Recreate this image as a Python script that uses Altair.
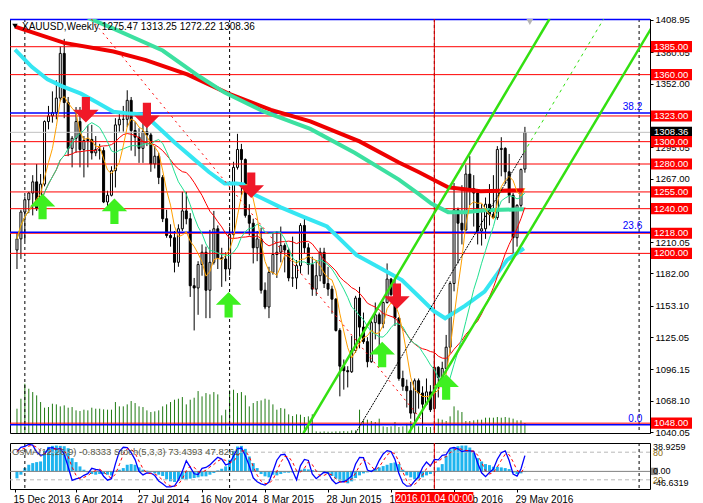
import altair as alt
import pandas as pd

# ---------------- data ----------------
weeks = list(range(130))  # 0 = week of 22 Dec 2013 ... 129 = week of 12 Jun 2016
opens = [1203,1213,1237,1248,1254,1264,1240,1262,1318,1323,
         1326,1339,1379,1335,1294,1303,1318,1293,1301,1302,
         1290,1293,1292,1246,1252,1274,1315,1320,1320,1337,
         1310,1304,1294,1309,1306,1280,1287,1268,1231,1216,
         1214,1192,1222,1238,1231,1171,1169,1190,1201,1167,
         1192,1222,1196,1195,1186,1217,1277,1293,1284,1234,
         1227,1205,1213,1167,1152,1183,1199,1201,1207,1203,
         1178,1178,1189,1225,1205,1190,1168,1180,1201,1173,
         1168,1159,1131,1099,1095,1094,1113,1160,1134,1121,
         1103,1138,1145,1137,1156,1177,1163,1142,1088,1081,
         1077,1057,1086,1075,1065,1076,1061,1098,1089,1097,
         1116,1173,1239,1227,1221,1271,1258,1254,1220,1222,
         1244,1235,1232,1293,1294,1273,1252,1214,1243,1275.47]
highs = [1219,1239,1251,1255,1270,1280,1271,1319,1332,1345,
         1355,1385,1392,1340,1305,1331,1331,1305,1315,1315,
         1305,1298,1295,1256,1278,1321,1326,1332,1346,1340,
         1318,1312,1322,1320,1308,1296,1290,1270,1239,1226,
         1220,1226,1255,1255,1236,1178,1193,1208,1206,1221,
         1238,1225,1205,1201,1224,1282,1307,1298,1285,1244,
         1231,1220,1223,1174,1188,1219,1220,1224,1209,1205,
         1215,1194,1227,1232,1209,1197,1194,1205,1205,1188,
         1171,1160,1133,1105,1099,1126,1162,1170,1147,1125,
         1140,1156,1147,1157,1191,1178,1180,1143,1095,1087,
         1085,1088,1088,1081,1088,1082,1111,1099,1103,1127,
         1175,1263,1241,1261,1279,1287,1270,1256,1244,1250,
         1262,1270,1296,1304,1295,1289,1254,1244,1276,1313.25]
lows = [1186,1195,1211,1236,1234,1238,1238,1260,1311,1317,
        1320,1336,1321,1287,1277,1290,1277,1268,1277,1284,
        1287,1284,1245,1240,1251,1259,1309,1309,1313,1292,
        1287,1281,1281,1296,1273,1276,1262,1228,1214,1206,
        1183,1188,1220,1226,1161,1131,1145,1180,1142,1142,
        1190,1186,1170,1175,1180,1213,1275,1252,1232,1216,
        1191,1193,1164,1150,1142,1181,1178,1192,1183,1175,
        1170,1168,1182,1200,1181,1162,1162,1175,1169,1162,
        1146,1130,1072,1078,1080,1093,1111,1115,1119,1098,
        1102,1123,1108,1133,1155,1162,1135,1086,1077,1062,
        1052,1046,1061,1046,1064,1058,1061,1071,1080,1096,
        1111,1166,1191,1208,1220,1243,1224,1208,1207,1213,
        1225,1231,1230,1269,1262,1245,1200,1206,1241,1272.22]
closes = [1213,1237,1248,1254,1264,1240,1262,1318,1323,1326,
          1339,1379,1335,1294,1303,1318,1293,1301,1302,1290,
          1293,1292,1246,1252,1274,1315,1320,1320,1337,1310,
          1304,1294,1309,1306,1280,1287,1268,1231,1216,1214,
          1192,1222,1238,1231,1171,1169,1190,1201,1167,1192,
          1222,1196,1195,1186,1217,1277,1293,1284,1234,1227,
          1205,1213,1167,1152,1183,1199,1201,1207,1203,1178,
          1178,1189,1225,1205,1190,1168,1180,1201,1173,1168,
          1159,1131,1099,1095,1094,1113,1160,1134,1121,1103,
          1138,1145,1137,1156,1177,1163,1142,1088,1081,1077,
          1057,1086,1075,1065,1076,1060,1098,1089,1097,1116,
          1173,1239,1227,1221,1271,1258,1254,1220,1222,1244,
          1235,1232,1293,1294,1273,1252,1214,1243,1275,1308.36]
volumes = [73,103,148,133,123,113,93,76,78,88,
           86,80,83,76,78,68,66,70,68,76,
           73,73,71,70,70,93,80,80,86,96,
           90,80,78,68,63,65,68,80,86,93,
           100,103,108,86,100,106,126,110,120,116,
           123,116,53,70,128,130,120,123,113,80,
           90,96,98,103,100,86,70,75,73,56,
           51,56,55,48,50,56,5,4,5,4,
           4,5,5,6,5,8,8,70,38,40,
           36,33,43,20,18,20,33,18,20,28,
           36,23,20,23,18,18,28,43,40,36,
           50,80,68,63,36,36,38,40,40,46,
           46,46,48,46,48,46,43,38,38,30]
osma = [-21,-10,10,20,25,28,30,62,74,77,
        78,77,76,70,40,28,15,5,-3,-8,
        -10,-8,-8,-10,-12,2,5,10,20,22,
        20,12,5,2,-2,-6,-10,-14,-24,-30,
        -32,-28,-24,-25,-22,-20,-18,-15,-15,-10,
        -5,3,8,15,35,62,75,77,68,45,
        25,10,-8,-15,-18,-10,-12,-8,-4,-4,
        -3,2,5,8,6,4,2,-2,-5,-8,
        -14,-22,-28,-32,-36,-30,-20,-12,-6,-3,
        3,8,12,16,20,25,27,22,5,-12,
        -18,-24,-22,-18,-12,-8,-3,12,22,47,
        67,72,76,78,78,72,57,40,30,22,
        19,14,14,12,10,7,-4,-8,-6,-2]

levels = [1385, 1360, 1323, 1300, 1280, 1255, 1240, 1218, 1200, 1048]
fib_levels = [1409.3, 1325.7, 1219.0, 1046.5]
fib_names = ["", "38.2", "23.6", "0.0"]
bid = 1308.36
axis_ticks = [1408.95, 1380.05, 1352.00, 1323.10, 1295.05, 1267.00, 1238.95,
              1210.05, 1182.00, 1153.10, 1125.05, 1096.15, 1068.10, 1040.05]
separators = [2, 54, 106, 158]
cross_i = 106
date_ticks = [-0.5, 15, 31, 47, 63, 79, 95, 111, 127]
date_labels = ["15 Dec 2013", "6 Apr 2014", "27 Jul 2014", "16 Nov 2014", "8 Mar 2015",
               "28 Jun 2015", "18 Oct 2015", "7 Feb 2016", "29 May 2016"]

red_thick_i = [-0.5, 12, 24.5, 32.75, 43.25, 53.75, 64.5, 74.5, 87, 97, 102, 109.5, 117.75, 128.75]
red_thick_p = [1403.0, 1388.4, 1380.7, 1373.0, 1360.2, 1343.0, 1328.5, 1318.2, 1300.2, 1281.4,
               1272.8, 1259.2, 1255.7, 1256.6]
teal_thick_i = [14.5, 18.75, 24.5, 37, 46.25, 52.75, 62.75, 74.5, 85.75, 97, 102, 105.25,
                109.5, 113.75, 118.75, 128.75]
teal_thick_p = [1418.0, 1409.8, 1401.2, 1381.6, 1358.5, 1343.9, 1326.8, 1311.4, 1290.0, 1266.0,
                1253.2, 1244.6, 1236.9, 1236.9, 1238.6, 1239.5]
cyan_thick_i = [-0.5, 3.75, 7.75, 11.25, 16.25, 20.25, 24.5, 28.75, 32.75, 34.5, 40.25, 44.5,
                48.75, 52.75, 55.75, 57.5, 59.5, 67, 72.75, 78.75, 82, 86.25, 92, 97.75, 102,
                105.75, 108.75, 113.75, 118.75, 124.5, 128.75]
cyan_thick_p = [1382.4, 1367.0, 1355.9, 1349.9, 1343.0, 1335.3, 1326.8, 1325.1, 1324.2, 1317.4,
                1298.5, 1285.7, 1272.8, 1262.6, 1262.6, 1261.7, 1254.0, 1241.2, 1232.6, 1224.1,
                1213.0, 1198.4, 1187.3, 1176.1, 1161.6, 1148.7, 1141.9, 1153.0, 1165.8, 1194.1,
                1204.4]

chan_name = ["L1", "L1", "L3", "L3"]
chan_i = [72.75, 135.25, 99.5, 162.5]
chan_p = [1039.1, 1409.8, 1039.1, 1409.8]
mid_black_i = [86, 128.75]
mid_black_p = [1039.1, 1290.3]
mid_green_i = [128.75, 149]
mid_green_p = [1290.3, 1409.8]
trend_red_i = [18.9, 102.5]
trend_red_p = [1409.8, 1052.0]

down_i = [17.5, 33, 59.5, 96.5]
down_p = [1328.5, 1323.4, 1260.9, 1161.6]
up_i = [6.5, 24.75, 53.75, 92.75, 109]
up_p = [1242.0, 1237.8, 1153.9, 1109.4, 1080.3]

title_text = "XAUUSD,Weekly  1275.47 1313.25 1272.22 1308.36"
ind_title = "OsMA(12,26,9) -0.8333  Stoch(5,3,3) 73.4393 47.8261"
ind_labels = ["38.9259", "80", "0.00", "20", "-46.6319"]
ind_label_v = [91, 79, 38.3, 19, 12]
ind_label_col = ["#000000", "#8a6a10", "#000000", "#8a6a10", "#000000"]
cross_text = "2016.01.04 00:00"

# ---------------- layout ----------------
W, HM, HI = 640, 414, 46
XDOM = [-0.5, 159.5]
PDOM = [1039.2, 1409.8]
FONT = "Liberation Sans"
ZERO = 38.3

df = pd.DataFrame({"i": weeks, "o": opens, "h": highs, "l": lows, "c": closes,
                   "vol": volumes, "osma": osma})

xs = alt.Scale(domain=XDOM, nice=False, zero=False)
ys = alt.Scale(domain=PDOM, nice=False, zero=False)
yax = alt.Axis(orient="right", values=axis_ticks, format=".2f", title=None, grid=False,
               labelFont=FONT, labelFontSize=9.5, labelColor="black", tickColor="black",
               tickSize=3, domainColor="black", labelPadding=2, labelFlush=False,
               labelOverlap=False)


def X(f="i"):
    return alt.X(f"{f}:Q", scale=xs, axis=None)


def Y(f):
    return alt.Y(f"{f}:Q", scale=ys, axis=yax)


sort_i = [alt.SortField("i")]
base = alt.Chart(df)

vol = base.transform_calculate(vtop=f"{PDOM[0]} + datum.vol * 0.298").mark_rule(
    color="#1f7a12", strokeWidth=1).encode(x=X(), y=Y("vtop"), y2=alt.datum(PDOM[0]))

sep_df = pd.DataFrame({"i": separators})
seps = alt.Chart(sep_df).mark_rule(color="black", strokeDash=[3, 3], strokeWidth=1).encode(x=X())

lv_df = pd.DataFrame({"p": levels})
lv_rules = alt.Chart(lv_df).mark_rule(color="#ff0000", strokeWidth=1).encode(y=Y("p"))
fib_df = pd.DataFrame({"p": fib_levels, "name": fib_names})
fib_rules = alt.Chart(fib_df).mark_rule(color="#0000ff", strokeWidth=1.5).encode(y=Y("p"))
fib_text = alt.Chart(fib_df).transform_calculate(ix="158.8").mark_text(
    align="right", baseline="bottom", dy=-1, color="#0000ff", font=FONT, fontSize=10).encode(
    x=X("ix"), y=Y("p"), text="name:N")
bid_df = pd.DataFrame({"p": [bid]})
bid_rule = alt.Chart(bid_df).mark_rule(color="#c0c0c0", strokeWidth=1).encode(y=Y("p"))

wicks = base.mark_rule(color="black", strokeWidth=1).encode(x=X(), y=Y("l"), y2="h:Q")
bodies = base.mark_bar(size=2, stroke="black", strokeWidth=1).encode(
    x=X(), y=Y("o"), y2="c:Q",
    fill=alt.condition("datum.c >= datum.o", alt.value("white"), alt.value("black")))

cross_df = pd.DataFrame({"i": [cross_i]})
cross = alt.Chart(cross_df).mark_rule(color="#e00000", strokeWidth=1).encode(x=X())

def thick(iv, pv, color):
    d = pd.DataFrame({"i": iv, "p": pv})
    return alt.Chart(d).mark_line(color=color, strokeWidth=4, clip=True).encode(x=X(), y=Y("p"))

red_thick = thick(red_thick_i, red_thick_p, "#ee0000")
teal_thick = thick(teal_thick_i, teal_thick_p, "#3ce0a0")
cyan_thick = thick(cyan_thick_i, cyan_thick_p, "#35e6f2")

ma = base.transform_window(ma5="mean(c)", frame=[-4, 0], sort=sort_i).transform_window(
    ma13="mean(c)", frame=[-12, 0], sort=sort_i).transform_window(
    ma21="mean(c)", frame=[-20, 0], sort=sort_i)
ma21 = ma.mark_line(color="#ff0000", strokeWidth=1).encode(x=X(), y=Y("ma21"))
ma13 = ma.mark_line(color="#20e090", strokeWidth=1).encode(x=X(), y=Y("ma13"))
ma5 = ma.mark_line(color="#ffa000", strokeWidth=1).encode(x=X(), y=Y("ma5"))

chan_df = pd.DataFrame({"line": chan_name, "i": chan_i, "p": chan_p})
chan = alt.Chart(chan_df).mark_line(color="#33e011", strokeWidth=2.5, clip=True).encode(
    x=X(), y=Y("p"), detail="line:N")
mid_b = alt.Chart(pd.DataFrame({"i": mid_black_i, "p": mid_black_p})).mark_line(
    color="black", strokeWidth=1, strokeDash=[2, 1], clip=True).encode(x=X(), y=Y("p"))
mid_g = alt.Chart(pd.DataFrame({"i": mid_green_i, "p": mid_green_p})).mark_line(
    color="#33e011", strokeWidth=1, strokeDash=[3, 4], clip=True).encode(x=X(), y=Y("p"))
trend = alt.Chart(pd.DataFrame({"i": trend_red_i, "p": trend_red_p})).mark_line(
    color="#ff0000", strokeWidth=1, strokeDash=[2, 4], clip=True).encode(x=X(), y=Y("p"))

DOWN = "M-0.32,-1L0.32,-1L0.32,0L1,0L0,1L-1,0L-0.32,0Z"
UP = "M-0.32,1L0.32,1L0.32,0L1,0L0,-1L-1,0L-0.32,0Z"
down_arrows = alt.Chart(pd.DataFrame({"i": down_i, "p": down_p})).mark_point(
    shape=DOWN, filled=True, size=650, color="#f01828", opacity=1).encode(x=X(), y=Y("p"))
up_arrows = alt.Chart(pd.DataFrame({"i": up_i, "p": up_p})).mark_point(
    shape=UP, filled=True, size=650, color="#3ef020", opacity=1).encode(x=X(), y=Y("p"))

box_lv = alt.Chart(lv_df).transform_calculate(lo="datum.p - 5", hi="datum.p + 5")
bid_box = alt.Chart(bid_df).transform_calculate(lo="datum.p - 5", hi="datum.p + 5").mark_rect(
    color="black").encode(x=alt.value(W + 1), x2=alt.value(W + 42), y=Y("lo"), y2="hi:Q")
bid_txt = alt.Chart(bid_df).mark_text(align="left", baseline="middle", color="white",
                                      font=FONT, fontSize=9.5).encode(
    x=alt.value(W + 4), y=Y("p"), text=alt.Text("p:Q", format=".2f"))
lv_box = box_lv.mark_rect(color="#ff0000").encode(
    x=alt.value(W + 1), x2=alt.value(W + 42), y=Y("lo"), y2="hi:Q")
lv_txt = alt.Chart(lv_df).mark_text(align="left", baseline="middle", color="white",
                                    font=FONT, fontSize=9.5).encode(
    x=alt.value(W + 4), y=Y("p"), text=alt.Text("p:Q", format=".2f"))

ann_df = pd.DataFrame({"t": [title_text]})
title_mark = alt.Chart(ann_df).mark_text(align="left", baseline="middle", font=FONT,
                                         fontSize=10, color="black").encode(
    x=alt.value(12), y=alt.value(8), text="t:N")
tri = alt.Chart(ann_df).mark_point(shape="triangle-down", filled=True, size=30,
                                   color="black", opacity=1).encode(x=alt.value(5), y=alt.value(7))
shift_df = pd.DataFrame({"i": [130.25]})
shift_tri = alt.Chart(shift_df).mark_point(shape="triangle-down", filled=True, size=45,
                                           color="#b4b4b4", opacity=1).encode(x=X(), y=alt.value(3))

main = alt.layer(
    vol, seps, wicks, bodies, bid_rule, lv_rules, fib_rules, cross,
    red_thick, teal_thick, cyan_thick, ma21, ma13, ma5,
    chan, mid_b, mid_g, trend, down_arrows, up_arrows, fib_text,
    bid_box, bid_txt, lv_box, lv_txt, title_mark, tri, shift_tri
).properties(width=W, height=HM)

# ---------------- indicator panel ----------------
date_expr = "[" + ",".join(f"'{s}'" for s in date_labels) + "][round((datum.value + 1) / 16)]"
xax = alt.Axis(values=date_ticks, labelExpr=date_expr, title=None, grid=False, domain=False,
               ticks=True, tickSize=3, tickColor="black", labelAlign="left", labelOffset=-2,
               labelFont=FONT, labelFontSize=10, labelColor="black", labelPadding=2,
               labelFlush=False, labelOverlap=False)
si = alt.Scale(domain=[0, 100], nice=False, zero=False)


def XI(f="i"):
    return alt.X(f"{f}:Q", scale=xs, axis=xax)


def YI(f):
    return alt.Y(f"{f}:Q", scale=si, axis=None)


osma_bars = base.transform_calculate(osy=f"{ZERO} + datum.osma * 0.72").mark_bar(
    size=3, color="#1eb4ee").encode(x=XI(), y=YI("osy"), y2=alt.datum(ZERO))
zero_rule = alt.Chart(pd.DataFrame({"v": [ZERO]})).mark_rule(color="#808080").encode(y=YI("v"))
lvl_rule = alt.Chart(pd.DataFrame({"v": [20, 80]})).mark_rule(
    color="#b8b8b8", strokeDash=[4, 3]).encode(y=YI("v"))
seps_i = alt.Chart(sep_df).mark_rule(color="black", strokeDash=[3, 3]).encode(x=XI())
cross_i_rule = alt.Chart(cross_df).mark_rule(color="#e00000").encode(x=XI())

stoch = base.transform_window(ll="min(l)", hh="max(h)", frame=[-4, 0], sort=sort_i) \
    .transform_calculate(num="datum.c - datum.ll", den="datum.hh - datum.ll") \
    .transform_window(snum="sum(num)", sden="sum(den)", frame=[-2, 0], sort=sort_i) \
    .transform_calculate(k="100 * datum.snum / datum.sden") \
    .transform_window(d="mean(k)", frame=[-2, 0], sort=sort_i)
stoch_main = stoch.mark_line(color="#0000ff", strokeWidth=1.3).encode(x=XI(), y=YI("k"))
stoch_sig = stoch.mark_line(color="#ff0000", strokeWidth=1, strokeDash=[3, 3]).encode(
    x=XI(), y=YI("d"))

ind_t = alt.Chart(pd.DataFrame({"t": [ind_title]})).mark_text(
    align="left", baseline="middle", font=FONT, fontSize=9.5, color="#5a5a48").encode(
    x=alt.value(2), y=alt.value(9), text="t:N")
lab_df = pd.DataFrame({"t": ind_labels, "v": ind_label_v, "col": ind_label_col})
zero_box = alt.Chart(pd.DataFrame({"v": [ZERO]})).transform_calculate(
    lo="datum.v - 8", hi="datum.v + 8").mark_rect(color="#8c8c8c").encode(
    x=alt.value(W + 1), x2=alt.value(W + 8), y=YI("lo"), y2="hi:Q")
ind_labs = alt.Chart(lab_df).mark_text(align="left", baseline="middle", font=FONT,
                                       fontSize=9).encode(
    x=alt.value(W + 3), y=YI("v"), text="t:N", color=alt.Color("col:N", scale=None))

cross_lab_df = pd.DataFrame({"a": [cross_i - 9.9], "b": [cross_i + 9.9], "i": [cross_i],
                             "t": [cross_text]})
cross_box = alt.Chart(cross_lab_df).mark_rect(color="#ff0000").encode(
    x=XI("a"), x2="b:Q", y=alt.value(HI + 3), y2=alt.value(HI + 16))
cross_txt = alt.Chart(cross_lab_df).mark_text(align="center", baseline="middle", color="white",
                                              font=FONT, fontSize=10).encode(
    x=XI("i"), y=alt.value(HI + 10), text="t:N")

ind = alt.layer(
    osma_bars, zero_rule, lvl_rule, seps_i, cross_i_rule, stoch_main, stoch_sig,
    ind_t, zero_box, ind_labs, cross_box, cross_txt
).properties(width=W, height=HI)

chart = alt.vconcat(main, ind, spacing=3).properties(padding=0).configure(
    background="white").configure_view(stroke="black", strokeWidth=1).configure_text(font=FONT)

chart.save("out.html", embed_options={"renderer": "svg", "actions": False})
